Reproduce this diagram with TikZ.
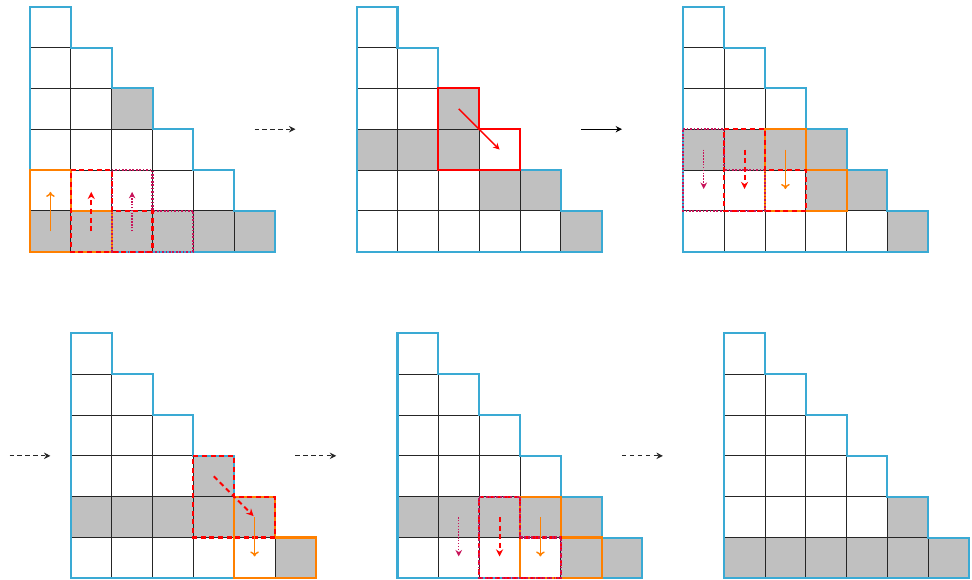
\documentclass[tikz,border=0pt]{standalone}
\usetikzlibrary{arrows.meta}
\definecolor{outl}{RGB}{58,170,212}
\definecolor{hor}{RGB}{255,128,0}
\definecolor{hred}{RGB}{255,0,0}
\definecolor{hpur}{RGB}{200,20,90}
\definecolor{cellgray}{RGB}{192,192,192}
\tikzset{
  gridline/.style={black!85, line width=0.6pt},
  outline/.style={outl, line width=1.4pt, line join=miter},
  hookO/.style={hor, line width=1.5pt, line join=miter},
  hookR/.style={hred, line width=1.6pt, dash pattern=on 3.5pt off 2.5pt, line join=miter},
  hookRs/.style={hred, line width=1.5pt, line join=miter},
  hookP/.style={hpur, line width=1.5pt, dash pattern=on 1.2pt off 1.2pt, line join=miter},
  arO/.style={hor, line width=1pt, -{To[length=3.5pt,width=6pt]}, shorten >=1pt},
  arR/.style={hred, line width=1.3pt, dash pattern=on 3.5pt off 2.5pt, -{Stealth[length=5pt,width=5pt]}, shorten >=1pt},
  arRs/.style={hred, line width=1pt, -{Stealth[length=4.5pt,width=4.5pt]}},
  arP/.style={hpur, line width=0.9pt, dash pattern=on 1pt off 1pt, -{Stealth[length=4.5pt,width=4.5pt]}, shorten >=1pt},
  flowd/.style={black!85, line width=0.7pt, dash pattern=on 3pt off 2.5pt, -{Stealth[length=4.5pt,width=4.5pt]}},
  flows/.style={black, line width=0.7pt, -{Stealth[length=4.5pt,width=4.5pt]}},
}
\newcommand\gcell[2]{\fill[cellgray] ({#1-1},{1-#2}) rectangle (#1,-#2);}
\newcommand\panelgrid{%
  \foreach \r in {1,...,6}{
    \foreach \c in {1,...,\r}{
      \draw[gridline] (\c-1,1-\r) rectangle (\c,-\r);
    }
  }
  \draw[outline] (0,0) -- (1,0) -- (1,-1) -- (2,-1) -- (2,-2) -- (3,-2) -- (3,-3) -- (4,-3) -- (4,-4) -- (5,-4) -- (5,-5) -- (6,-5) -- (6,-6) -- (0,-6) -- cycle;
}
\newcommand\hookat[3]{\draw[#1] ({#2-1},{1-#3}) -- (#2,{1-#3}) -- (#2,-#3) -- ({#2+1},-#3) -- ({#2+1},{-#3-1}) -- ({#2-1},{-#3-1}) -- cycle;}
\newcommand\varr[4]{\draw[#1] ({#2-0.5},{0.5-#3}) -- ({#2-0.5},{0.5-#4});}
\begin{document}
\begin{tikzpicture}[x=1cm,y=1cm]
\useasboundingbox (-0.735,0.164) rectangle (23.07,-14.04);
% Panel 1
\begin{scope}[shift={(0,0)}]
  \gcell{3}{3}
  \foreach \c in {1,...,6}{\gcell{\c}{6}}
  \panelgrid
  \hookat{hookO}{1}{5}
  \hookat{hookP}{3}{5}
  \hookat{hookR}{2}{5}
  \varr{arO}{1}{6}{5}
  \varr{arR}{2}{6}{5}
  \varr{arP}{3}{6}{5}
\end{scope}
% Panel 2
\begin{scope}[shift={(8,0)}]
  \gcell{3}{3}
  \gcell{1}{4}\gcell{2}{4}\gcell{3}{4}
  \gcell{4}{5}\gcell{5}{5}
  \gcell{6}{6}
  \panelgrid
  \hookat{hookRs}{3}{3}
  \draw[arRs] (2.5,-2.5) -- (3.5,-3.5);
\end{scope}
% Panel 3
\begin{scope}[shift={(16,0)}]
  \foreach \c in {1,...,4}{\gcell{\c}{4}}
  \gcell{4}{5}\gcell{5}{5}
  \gcell{6}{6}
  \panelgrid
  \hookat{hookO}{3}{4}
  \hookat{hookP}{1}{4}
  \hookat{hookR}{2}{4}
  \varr{arO}{3}{4}{5}
  \varr{arR}{2}{4}{5}
  \varr{arP}{1}{4}{5}
\end{scope}
% Panel 4
\begin{scope}[shift={(1,-8)}]
  \gcell{4}{4}
  \foreach \c in {1,...,5}{\gcell{\c}{5}}
  \gcell{6}{6}
  \panelgrid
  \hookat{hookO}{5}{5}
  \hookat{hookR}{4}{4}
  \draw[arR] (3.5,-3.5) -- (4.5,-4.5);
  \varr{arO}{5}{5}{6}
\end{scope}
% Panel 5
\begin{scope}[shift={(9,-8)}]
  \foreach \c in {1,...,5}{\gcell{\c}{5}}
  \gcell{5}{6}\gcell{6}{6}
  \panelgrid
  \hookat{hookO}{4}{5}
  \hookat{hookR}{3}{5}
  \hookat{hookP}{3}{5}
  \varr{arP}{2}{5}{6}
  \varr{arR}{3}{5}{6}
  \varr{arO}{4}{5}{6}
\end{scope}
% Panel 6
\begin{scope}[shift={(17,-8)}]
  \gcell{5}{5}
  \foreach \c in {1,...,6}{\gcell{\c}{6}}
  \panelgrid
\end{scope}
% Arrows between panels
\coordinate (s12) at (5.5,-3);   \coordinate (e12) at (6.5,-3);
\coordinate (s23) at (13.5,-3);  \coordinate (e23) at (14.5,-3);
\coordinate (s34) at (-0.5,-11); \coordinate (e34) at (0.5,-11);
\coordinate (s45) at (6.5,-11);  \coordinate (e45) at (7.5,-11);
\coordinate (s56) at (14.5,-11); \coordinate (e56) at (15.5,-11);
\draw[flowd] (s12) -- (e12);
\draw[flows] (s23) -- (e23);
\draw[flowd] (s34) -- (e34);
\draw[flowd] (s45) -- (e45);
\draw[flowd] (s56) -- (e56);
\end{tikzpicture}
\end{document}
